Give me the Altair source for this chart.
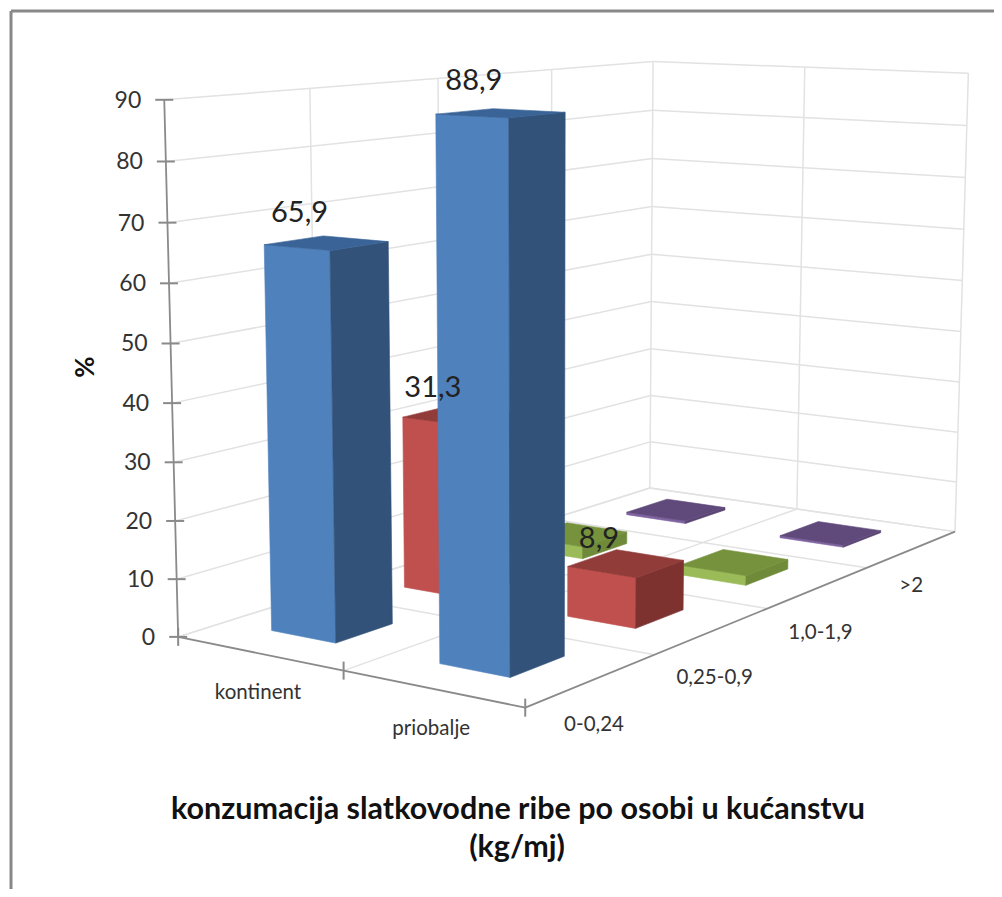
import numpy as np
import pandas as pd
import altair as alt

categories = ["kontinent", "priobalje"]
series_names = ["0-0,24", "0,25-0,9", "1,0-1,9", ">2"]
blue_values = [65.9, 88.9]
red_values = [31.3, 8.9]
green_values = [2.3, 1.8]
purple_values = [0.5, 0.4]
value_ticks = [0, 10, 20, 30, 40, 50, 60, 70, 80, 90]
title_lines = ["konzumacija slatkovodne ribe po osobi u kućanstvu", "(kg/mj)"]

series_values = [blue_values, red_values, green_values, purple_values]
shades = [
    ("#4F81BD", "#325279", "#3A6497"),
    ("#C0504D", "#7E3230", "#923C3A"),
    ("#9BBB59", "#6F8B3A", "#76923C"),
    ("#8064A2", "#5A4573", "#5F4A7B"),
]

# Camera: projective map fitted to the visible corners of the 3D box
anchors = [
    ((0, 0, 0), (178, 637)), ((.5, 0, 0), (344, 671)), ((1, 0, 0), (527, 708)),
    ((0, 1, 0), (650, 488)), ((.5, 1, 0), (797, 509)), ((1, 1, 0), (958, 532)),
    ((0, 0, 1), (163, 100)), ((0, 1, 1), (652, 62)), ((.5, 1, 1), (804, 68)),
    ((1, 1, 1), (969, 73)), ((0, .25, 1), (311, 88)), ((0, .5, 1), (439, 78)),
    ((0, .75, 1), (552, 69)), ((1, .25, 0), (653, 655)), ((1, .5, 0), (767, 608)),
    ((1, .75, 0), (863, 567)),
]
A, b = [], []
for (p, (sx, sy)) in anchors:
    X = [p[0], p[1], p[2], 1]
    A.append(X + [0, 0, 0, 0] + [-sx * c for c in X[:3]])
    b.append(sx)
    A.append([0, 0, 0, 0] + X + [-sy * c for c in X[:3]])
    b.append(sy)
sol = np.linalg.lstsq(np.array(A, float), np.array(b, float), rcond=None)[0]
P = np.append(sol, 1).reshape(3, 4)


def proj(u, v, value):
    h = P @ np.array([u, v, value / 90.0, 1.0])
    return float(h[0] / h[2]), float(h[1] / h[2])


def area_rows(poly, face, color):
    xs = sorted({round(p[0], 3) for p in poly})
    n = len(poly)
    rows = []
    for x in xs:
        ys = []
        for i in range(n):
            (x0, y0), (x1, y1) = poly[i], poly[(i + 1) % n]
            lo, hi = min(x0, x1) - 1e-3, max(x0, x1) + 1e-3
            if lo <= x <= hi:
                if abs(x1 - x0) < 1e-6:
                    ys += [y0, y1]
                else:
                    ys.append(y0 + (y1 - y0) * (x - x0) / (x1 - x0))
        rows.append(dict(x=x, y=min(ys), y2=max(ys), face=face, color=color))
    return rows


bar_half_u = 0.098
bar_half_v = 0.052
faces, data_labels = [], []
cells = [(s, c) for s in range(3, -1, -1) for c in range(2)]
fid = 0
for s, c in cells:
    val = series_values[s][c]
    uc, vc = (c + .5) / 2 - 0.01, (s + .5) / 4 + 0.01
    u0, u1, v0, v1 = uc - bar_half_u, uc + bar_half_u, vc - bar_half_v, vc + bar_half_v
    front = [proj(u0, v0, 0), proj(u1, v0, 0), proj(u1, v0, val), proj(u0, v0, val)]
    side = [proj(u1, v0, 0), proj(u1, v1, 0), proj(u1, v1, val), proj(u1, v0, val)]
    top = [proj(u0, v0, val), proj(u1, v0, val), proj(u1, v1, val), proj(u0, v1, val)]
    for poly, col in zip((front, side, top), shades[s]):
        faces += area_rows(poly, fid, col)
        fid += 1
    if val >= 5:
        tx, ty = proj(uc, vc, val)
        data_labels.append(dict(x=tx - 27, y=ty - 24 - 8 * val / 90, t=f"{val}".replace(".", ",")))
faces = pd.DataFrame(faces)

grid, axes_lines, ticks = [], [], []


def seg(store, a, b_):
    store.append(dict(x=a[0], y=a[1], x2=b_[0], y2=b_[1]))


for val in value_ticks:
    seg(grid, proj(0, 0, val), proj(0, 1, val))
    seg(grid, proj(0, 1, val), proj(1, 1, val))
    tx, ty = proj(0, 0, val)
    seg(ticks, (tx - 9, ty), (tx + 9, ty))
for v in (.25, .5, .75, 1):
    seg(grid, proj(0, v, 0), proj(0, v, 90))
    seg(grid, proj(0, v, 0), proj(1, v, 0))
for u in (.5, 1):
    seg(grid, proj(u, 1, 0), proj(u, 1, 90))
seg(grid, proj(.5, 0, 0), proj(.5, 1, 0))
seg(grid, proj(0, 0, 0), proj(0, 1, 0))

seg(axes_lines, proj(0, 0, 0), proj(0, 0, 90))
seg(axes_lines, proj(0, 0, 0), proj(1, 0, 0))
seg(axes_lines, proj(1, 0, 0), proj(1, 1, 0))
for u in (0, .5, 1):
    tx, ty = proj(u, 0, 0)
    seg(ticks, (tx, ty - 9), (tx, ty + 9))

value_text = [dict(x=proj(0, 0, v)[0] - 23, y=proj(0, 0, v)[1] + 1, t=str(v)) for v in value_ticks]
cat_text = []
for i, name in enumerate(categories):
    tx, ty = proj((i + .5) / 2, 0, 0)
    cat_text.append(dict(x=tx - 1, y=ty + 40, t=name))
series_label_dy = [45, 47, 45, 37]
series_label_dx = [2, 2, 2, -1]
for i, name in enumerate(series_names):
    tx, ty = proj(1, (i + .5) / 4, 0)
    cat_text.append(dict(x=tx + series_label_dx[i], y=ty + series_label_dy[i], t=name))
title_text = [dict(x=518, y=810, t=title_lines[0]), dict(x=517, y=848, t=title_lines[1])]
frame = [dict(x=11, y=11, x2=994, y2=11), dict(x=11, y=11, x2=11, y2=889)]

X = alt.X("x:Q", scale=alt.Scale(domain=[8, 994], nice=False, zero=False), axis=None)
Y = alt.Y("y:Q", scale=alt.Scale(domain=[889, 8], nice=False, zero=False), axis=None)


def rules(rows, color, width):
    return alt.Chart(pd.DataFrame(rows)).mark_rule(color=color, strokeWidth=width).encode(
        x=X, y=Y, x2="x2:Q", y2="y2:Q")


def texts(rows, size, weight="normal", color="#222222", angle=0):
    return alt.Chart(pd.DataFrame(rows)).mark_text(
        font="Lato", fontSize=size, fontWeight=weight, color=color, angle=angle,
        align="center", baseline="middle").encode(x=X, y=Y, text="t:N")


bars = alt.Chart(faces).mark_area(strokeWidth=0.6, opacity=1).encode(
    x=X, y=Y, y2="y2:Q",
    detail="face:N",
    color=alt.Color("color:N", scale=None),
    stroke=alt.Stroke("color:N", scale=None),
)

value_labels = alt.Chart(pd.DataFrame(value_text)).mark_text(
    font="Lato", fontSize=23, color="#333333", align="right", baseline="middle"
).encode(x=X, y=Y, text="t:N")

chart = alt.layer(
    rules(frame, "#888888", 3),
    rules(grid, "#E2E2E2", 1.5),
    rules(axes_lines, "#8A8A8A", 1.8),
    rules(ticks, "#8A8A8A", 2),
    bars,
    value_labels,
    texts(cat_text, 20.5, color="#333333"),
    texts(data_labels, 29),
    texts([dict(x=86, y=367, t="%")], 26, "bold", "#111111", 270),
    texts(title_text, 30.5, "bold", "#111111"),
).properties(
    width=986, height=881, padding=0, background="white",
    autosize=alt.AutoSizeParams(type="none"),
).configure_view(stroke=None)

chart.save("out.html", embed_options={"renderer": "svg", "actions": False})
